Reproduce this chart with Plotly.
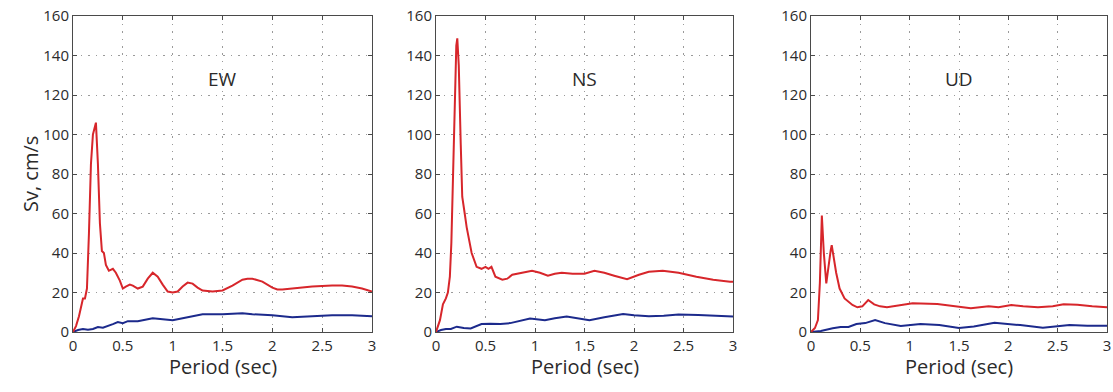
import plotly.graph_objects as go

# ---- data ----
ew_red_x = [0, 0.03, 0.06, 0.08, 0.10, 0.12, 0.14, 0.16, 0.18, 0.20, 0.22, 0.23, 0.25, 0.27, 0.29,
            0.31, 0.33, 0.36, 0.40, 0.43, 0.47, 0.50, 0.53, 0.57, 0.60, 0.65, 0.70, 0.75, 0.80,
            0.85, 0.90, 0.95, 1.00, 1.05, 1.10, 1.15, 1.20, 1.25, 1.30, 1.40, 1.50, 1.60, 1.70,
            1.75, 1.80, 1.90, 2.00, 2.05, 2.10, 2.20, 2.40, 2.60, 2.70, 2.80, 2.90, 3.00]
ew_red_y = [0, 3, 8, 12, 17, 17, 22, 50, 85, 100, 104, 106, 85, 55, 41,
            40, 34, 31, 32, 30, 26, 22, 23, 24, 23.5, 22, 23, 27, 30,
            28, 24, 20.5, 20, 20.5, 23, 25, 24.5, 22.5, 21, 20.5, 21, 23.5, 26.5,
            27, 27, 25.5, 22.5, 21.5, 21.5, 22, 23, 23.5, 23.5, 23, 22, 20.5]
ew_blue_x = [0, 0.05, 0.10, 0.15, 0.20, 0.25, 0.30, 0.35, 0.40, 0.45, 0.50, 0.55, 0.65, 0.75,
             0.80, 0.90, 1.00, 1.10, 1.20, 1.30, 1.50, 1.70, 1.80, 2.00, 2.20, 2.40, 2.60, 2.80, 3.00]
ew_blue_y = [0, 1, 1.5, 1.2, 1.5, 2.5, 2.2, 3, 4, 5, 4.5, 5.5, 5.5, 6.5,
             7, 6.5, 6, 7, 8, 9, 9, 9.5, 9, 8.5, 7.5, 8, 8.5, 8.5, 8]

ns_red_x = [0, 0.04, 0.07, 0.10, 0.12, 0.14, 0.155, 0.17, 0.19, 0.205, 0.215, 0.23, 0.25, 0.265,
            0.29, 0.31, 0.36, 0.41, 0.46, 0.50, 0.53, 0.56, 0.60, 0.67, 0.72, 0.77, 0.87, 0.97,
            1.05, 1.13, 1.20, 1.27, 1.38, 1.50, 1.60, 1.70, 1.80, 1.93, 2.05, 2.15, 2.29, 2.45,
            2.63, 2.80, 2.97, 3.00]
ns_red_y = [0, 6, 14, 17, 20, 28, 45, 80, 120, 145, 148.7, 135, 95, 68.5,
            60, 53, 40, 33, 32, 33, 32, 33, 28, 26.5, 27, 29, 30, 31,
            30, 28.5, 29.5, 30, 29.5, 29.5, 31, 30, 28.5, 26.7, 29, 30.5, 31, 30,
            28, 26.5, 25.5, 25.5]
ns_blue_x = [0, 0.05, 0.10, 0.15, 0.21, 0.28, 0.35, 0.46, 0.55, 0.65, 0.75, 0.85, 0.95, 1.10,
             1.20, 1.32, 1.45, 1.55, 1.70, 1.89, 2.00, 2.15, 2.30, 2.45, 2.65, 2.85, 3.00]
ns_blue_y = [0, 1, 1.5, 1.5, 2.7, 2, 1.8, 4, 4.2, 4, 4.5, 5.8, 6.8, 6,
             7, 7.8, 7, 6, 7.5, 9.1, 8.5, 8, 8.2, 8.8, 8.6, 8.2, 7.8]

ud_red_x = [0, 0.04, 0.07, 0.09, 0.11, 0.13, 0.155, 0.18, 0.20, 0.21, 0.23, 0.255, 0.29, 0.34,
            0.42, 0.47, 0.52, 0.58, 0.64, 0.70, 0.77, 0.90, 1.03, 1.28, 1.45, 1.62, 1.80, 1.90,
            2.03, 2.15, 2.30, 2.45, 2.56, 2.70, 2.85, 2.97, 3.00]
ud_red_y = [0, 2, 6, 25, 59, 40, 24.6, 35, 41.5, 44, 38, 30, 22, 17,
            13.7, 12.5, 13, 16.2, 14, 13, 12.6, 13.5, 14.5, 14.2, 13, 12, 13, 12.5,
            13.7, 13, 12.5, 13, 14, 13.8, 13, 12.5, 12.5]
ud_blue_x = [0, 0.10, 0.22, 0.30, 0.38, 0.46, 0.55, 0.65, 0.75, 0.91, 1.11, 1.30, 1.50, 1.65,
             1.86, 2.00, 2.12, 2.35, 2.62, 2.80, 2.95, 3.00]
ud_blue_y = [0, 0.5, 1.9, 2.5, 2.5, 4, 4.5, 6, 4.5, 3, 4, 3.5, 2, 2.8,
             4.7, 4.2, 3.5, 2.2, 3.5, 3.2, 3, 3.2]

panels = ["EW", "NS", "UD"]
x_ticks = [0, 0.5, 1, 1.5, 2, 2.5, 3]
x_tick_labels = ["0", "0.5", "1", "1.5", "2", "2.5", "3"]
y_ticks = [0, 20, 40, 60, 80, 100, 120, 140, 160]

series = [
    (ew_red_x, ew_red_y, ew_blue_x, ew_blue_y),
    (ns_red_x, ns_red_y, ns_blue_x, ns_blue_y),
    (ud_red_x, ud_red_y, ud_blue_x, ud_blue_y),
]

W, H = 1113, 392


def PX(px):
    return px / W


def PY(py):
    return 1 - py / H


x_domains = [(PX(73), PX(372)), (PX(436), PX(733)), (PX(811), PX(1107))]
y_domain = (PY(332), PY(16))

RED = "#d7262b"
BLUE = "#1c2a8c"
FONT = "Open Sans"
TXT = "#2b2b2b"

fig = go.Figure()
for i, (rx, ry, bx, by) in enumerate(series):
    xa = "x" if i == 0 else f"x{i+1}"
    ya = "y" if i == 0 else f"y{i+1}"
    fig.add_trace(go.Scatter(x=bx, y=by, mode="lines", line=dict(color=BLUE, width=2),
                             xaxis=xa, yaxis=ya, showlegend=False))
    fig.add_trace(go.Scatter(x=rx, y=ry, mode="lines", line=dict(color=RED, width=2),
                             xaxis=xa, yaxis=ya, showlegend=False))
    axis_common = dict(showline=True, mirror="ticks", linecolor="#4a4a4a", linewidth=1,
                       ticks="inside", ticklen=4, tickcolor="#4a4a4a",
                       showgrid=True, gridcolor="#9a9a9a", griddash="1.5px,6px", gridwidth=1.2,
                       zeroline=False, automargin=False, ticklabeloverflow="allow",
                       tickfont=dict(family=FONT, size=15, color=TXT))
    xkey = "xaxis" if i == 0 else f"xaxis{i+1}"
    ykey = "yaxis" if i == 0 else f"yaxis{i+1}"
    fig.update_layout({
        xkey: dict(domain=list(x_domains[i]), range=[0, 3], tickvals=x_ticks,
                   ticktext=x_tick_labels, anchor=ya, **axis_common),
        ykey: dict(domain=list(y_domain), range=[0, 160], tickvals=y_ticks,
                   anchor=xa, **axis_common),
    })
    fig.add_annotation(x=1.5, y=128, xref=xa, yref=ya, text=panels[i], showarrow=False,
                       xanchor="center", yanchor="middle",
                       font=dict(family=FONT, size=19, color=TXT))
    cx = (x_domains[i][0] + x_domains[i][1]) / 2
    fig.add_annotation(x=cx, y=PY(366), xref="paper", yref="paper", text="Period (sec)",
                       xanchor="center", yanchor="middle",
                       showarrow=False, font=dict(family=FONT, size=20, color=TXT))

fig.add_annotation(x=PX(30), y=PY(174), xref="paper", yref="paper", text="Sv, cm/s",
                   xanchor="center", yanchor="middle",
                   textangle=-90, showarrow=False, font=dict(family=FONT, size=20, color=TXT))

fig.update_layout(width=W, height=H, margin=dict(l=0, r=0, t=0, b=0),
                  paper_bgcolor="white", plot_bgcolor="white")
fig.write_html("out.html", config={"displayModeBar": False},
               post_script="document.body.style.margin='0';document.body.style.overflow='hidden';")
